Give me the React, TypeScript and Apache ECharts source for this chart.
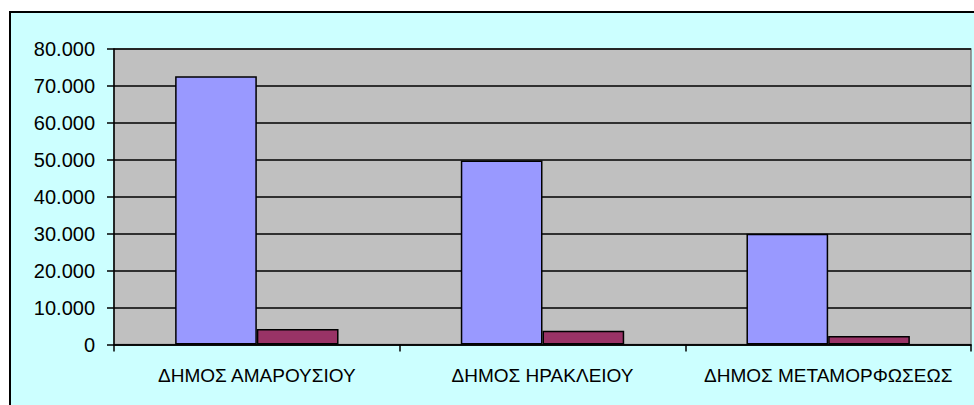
import React, { useEffect, useRef } from "react";
import * as echarts from "echarts";

const categories = ["ΔΗΜΟΣ ΑΜΑΡΟΥΣΙΟΥ", "ΔΗΜΟΣ ΗΡΑΚΛΕΙΟΥ", "ΔΗΜΟΣ ΜΕΤΑΜΟΡΦΩΣΕΩΣ"];
const seriesA = [72600, 49800, 30000];
const seriesB = [4200, 3700, 2300];
const yTicks = { min: 0, max: 80000, interval: 10000 };

const fmt = (v: number) => String(v).replace(/\B(?=(\d{3})+(?!\d))/g, ".");

export default function App() {
  const ref = useRef<HTMLDivElement>(null);
  useEffect(() => {
    const chart = echarts.init(ref.current!, undefined, { renderer: "svg" });
    chart.setOption({
      animation: false,
      backgroundColor: "#ffffff",
      textStyle: { fontFamily: "Liberation Sans, Arial, sans-serif" },
      graphic: [
        {
          type: "rect",
          z: -10,
          silent: true,
          shape: { x: 10, y: 12, width: 1000, height: 500 },
          style: { fill: "#CCFFFF", stroke: "#000000", lineWidth: 2 },
        },
      ],
      grid: {
        left: 114,
        top: 49,
        right: 3,
        bottom: 60.5,
        show: true,
        backgroundColor: "#C0C0C0",
        borderColor: "#808080",
        borderWidth: 1.5,
        containLabel: false,
      },
      xAxis: {
        type: "category",
        data: categories,
        axisLine: { show: true, lineStyle: { color: "#000", width: 1.5 } },
        axisTick: { show: true, length: 7, lineStyle: { color: "#000", width: 1.5 }, alignWithLabel: false },
        axisLabel: { color: "#000", fontSize: 19, margin: 21, interval: 0 },
        splitLine: { show: false },
      },
      yAxis: {
        type: "value",
        min: yTicks.min,
        max: yTicks.max,
        interval: yTicks.interval,
        axisLine: { show: true, lineStyle: { color: "#000", width: 1.5 } },
        axisTick: { show: true, length: 7, lineStyle: { color: "#000", width: 1.5 } },
        axisLabel: { color: "#000", fontSize: 20, margin: 19, formatter: (v: number) => fmt(v) },
        splitLine: { show: true, lineStyle: { color: "#000", width: 1.5 } },
      },
      series: [
        {
          type: "bar",
          data: seriesA,
          barWidth: "28.6%",
          barGap: "0%",
          itemStyle: { color: "#9999FF", borderColor: "#000", borderWidth: 1.5 },
        },
        {
          type: "bar",
          data: seriesB,
          barWidth: "28.6%",
          barGap: "0%",
          itemStyle: { color: "#993366", borderColor: "#000", borderWidth: 1.5 },
        },
      ],
    });
    return () => chart.dispose();
  }, []);
  return (
    <div
      ref={ref}
      style={{ position: "absolute", left: 0, top: 0, width: 974, height: 405 }}
    />
  );
}
